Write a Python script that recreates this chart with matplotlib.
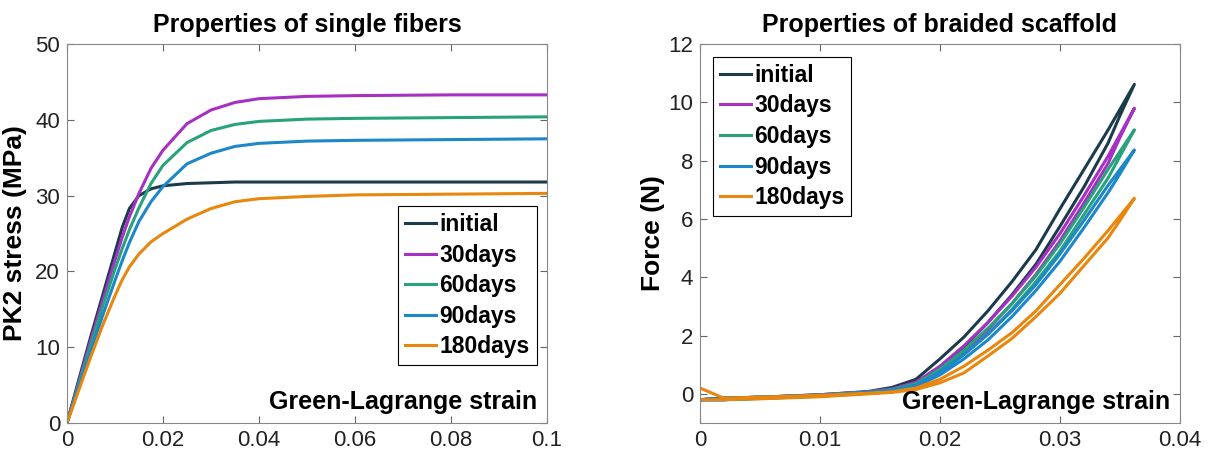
import matplotlib
matplotlib.use('Agg')
import matplotlib.pyplot as plt             # plotting data
import numpy as np                          # working with arrays

plt.rcParams['font.family'] = ['Liberation Sans', 'DejaVu Sans']

# legend labels and line colours

labels = ['initial', '30days', '60days', '90days', '180days']
colors = ['#1b3b4b', '#a630c4', '#27a27c', '#1c87c9', '#e8860e']

# ---- single fibers: PK2 stress [MPa] vs Green-Lagrange strain ----

fiber_strain = [0, 0.0025, 0.005, 0.0075, 0.01, 0.0115, 0.013, 0.015, 0.0175,
                0.02, 0.025, 0.03, 0.035, 0.04, 0.05, 0.06, 0.08, 0.1]

fiber_initial = [0, 5.8, 11.5, 17.0, 22.5, 25.8, 28.3, 30.0, 30.9,
                 31.3, 31.6, 31.7, 31.8, 31.8, 31.8, 31.8, 31.8, 31.8]
fiber_30 = [0, 5.5, 11.0, 16.3, 21.5, 24.5, 27.2, 30.3, 33.6,
            36.0, 39.5, 41.3, 42.3, 42.8, 43.1, 43.2, 43.3, 43.3]
fiber_60 = [0, 5.2, 10.4, 15.5, 20.3, 23.0, 25.5, 28.4, 31.6,
            34.0, 37.0, 38.6, 39.4, 39.8, 40.1, 40.2, 40.3, 40.4]
fiber_90 = [0, 4.8, 9.6, 14.3, 18.8, 21.4, 23.8, 26.6, 29.2,
            31.2, 34.2, 35.6, 36.5, 36.9, 37.2, 37.3, 37.4, 37.5]
fiber_180 = [0, 4.4, 8.8, 13.0, 16.8, 18.9, 20.6, 22.3, 23.9,
             25.0, 26.9, 28.3, 29.2, 29.6, 29.9, 30.1, 30.2, 30.3]

# ---- braided scaffold: force [N], loading and unloading branches ----

load_strain = [0, 0.002, 0.006, 0.010, 0.014, 0.016, 0.018, 0.020, 0.022,
               0.024, 0.026, 0.028, 0.030, 0.032, 0.034, 0.0362]
unload_strain = [0.0362, 0.035, 0.034, 0.032, 0.030, 0.028, 0.026, 0.024,
                 0.022, 0.020, 0.018, 0.016, 0.014, 0.010, 0.005, 0.002, 0]

load_initial = [-0.2, -0.15, -0.1, -0.03, 0.08, 0.22, 0.5, 1.2, 1.95,
                2.85, 3.85, 4.95, 6.35, 7.7, 9.05, 10.62]
unload_initial = [10.62, 9.55, 8.6, 7.1, 5.75, 4.45, 3.4, 2.45,
                  1.6, 0.9, 0.4, 0.15, 0.05, -0.06, -0.14, -0.2, -0.2]

load_30 = [-0.2, -0.15, -0.1, -0.03, 0.07, 0.17, 0.4, 0.95, 1.65,
           2.45, 3.35, 4.35, 5.5, 6.8, 8.15, 9.8]
unload_30 = [9.8, 8.8, 7.9, 6.55, 5.25, 4.1, 3.1, 2.2,
             1.45, 0.8, 0.33, 0.12, 0.04, -0.07, -0.15, -0.2, -0.2]

load_60 = [-0.2, -0.15, -0.1, -0.04, 0.06, 0.15, 0.35, 0.85, 1.5,
           2.25, 3.1, 4.05, 5.15, 6.4, 7.7, 9.06]
unload_60 = [9.06, 8.15, 7.4, 6.15, 4.9, 3.85, 2.9, 2.05,
             1.35, 0.72, 0.3, 0.1, 0.03, -0.08, -0.15, -0.2, -0.2]

load_90 = [-0.2, -0.15, -0.1, -0.04, 0.05, 0.13, 0.3, 0.75, 1.35,
           2.05, 2.85, 3.75, 4.8, 5.95, 7.15, 8.37]
unload_90 = [8.37, 7.55, 6.9, 5.7, 4.55, 3.55, 2.65, 1.85,
             1.2, 0.65, 0.25, 0.08, 0.02, -0.08, -0.16, -0.2, -0.2]

load_180 = [0.2, -0.15, -0.1, -0.05, 0.02, 0.07, 0.2, 0.5, 0.95,
            1.5, 2.1, 2.85, 3.75, 4.65, 5.6, 6.71]
unload_180 = [6.71, 5.95, 5.35, 4.4, 3.45, 2.65, 1.9, 1.3,
              0.72, 0.38, 0.15, 0.05, 0.0, -0.1, -0.17, -0.2, -0.2]

fiber_series = [fiber_initial, fiber_30, fiber_60, fiber_90, fiber_180]
load_series = [load_initial, load_30, load_60, load_90, load_180]
unload_series = [unload_initial, unload_30, unload_60, unload_90, unload_180]

# setting up the figure

fig = plt.figure(figsize=(12.11, 4.5), dpi=100, facecolor='white')
ax0 = fig.add_axes([0.0553, 0.060, 0.3964, 0.842])
ax1 = fig.add_axes([0.578, 0.060, 0.3964, 0.842])

for ax in (ax0, ax1):
    ax.tick_params(direction='in', top=True, right=True, length=5,
                   labelsize=16, colors='#666666', labelcolor='#222222', pad=5)
    for s in ax.spines.values():
        s.set_color('#888888')

legend_kw = dict(fancybox=False, edgecolor='black', framealpha=1,
                 handlelength=1.35, handletextpad=0.15, labelspacing=0.33,
                 borderpad=0.3, borderaxespad=0,
                 prop={'size': 16.5, 'weight': 'bold'})

# subplot 1: single fibers

for y, c, lab in zip(fiber_series, colors, labels):
    ax0.plot(fiber_strain, y, color=c, linewidth=2.2, label=lab)
ax0.set_xlim(0, 0.1)
ax0.set_ylim(0, 50)
ax0.set_xticks([0, 0.02, 0.04, 0.06, 0.08, 0.1])
ax0.set_xticklabels(['0', '0.02', '0.04', '0.06', '0.08', '0.1'])
ax0.set_yticks([0, 10, 20, 30, 40, 50])
ax0.set_title('Properties of single fibers', fontsize=18, fontweight='bold', pad=9)
ax0.set_ylabel('PK2 stress (MPa)', fontsize=19, fontweight='bold', labelpad=6)
ax0.text(0.979, 0.025, 'Green-Lagrange strain', transform=ax0.transAxes,
         ha='right', va='bottom', fontsize=18, fontweight='bold')
leg0 = ax0.legend(loc='upper left', bbox_to_anchor=(0.69, 0.572), **legend_kw)
leg0.get_frame().set_linewidth(0.8)

# subplot 2: braided scaffold (loading + unloading loop)

for yl, yu, c, lab in zip(load_series, unload_series, colors, labels):
    ax1.plot(load_strain + unload_strain, yl + yu, color=c, linewidth=2.2, label=lab)
ax1.set_xlim(0, 0.04)
ax1.set_ylim(-1, 12)
ax1.set_xticks([0, 0.01, 0.02, 0.03, 0.04])
ax1.set_xticklabels(['0', '0.01', '0.02', '0.03', '0.04'])
ax1.set_yticks([0, 2, 4, 6, 8, 10, 12])
ax1.set_title('Properties of braided scaffold', fontsize=18, fontweight='bold', pad=9)
ax1.set_ylabel('Force (N)', fontsize=19, fontweight='bold', labelpad=2)
ax1.text(0.979, 0.025, 'Green-Lagrange strain', transform=ax1.transAxes,
         ha='right', va='bottom', fontsize=18, fontweight='bold')
leg1 = ax1.legend(loc='upper left', bbox_to_anchor=(0.027, 0.966), **legend_kw)
leg1.get_frame().set_linewidth(0.8)

fig.savefig('out.png', dpi=100, facecolor='white')
